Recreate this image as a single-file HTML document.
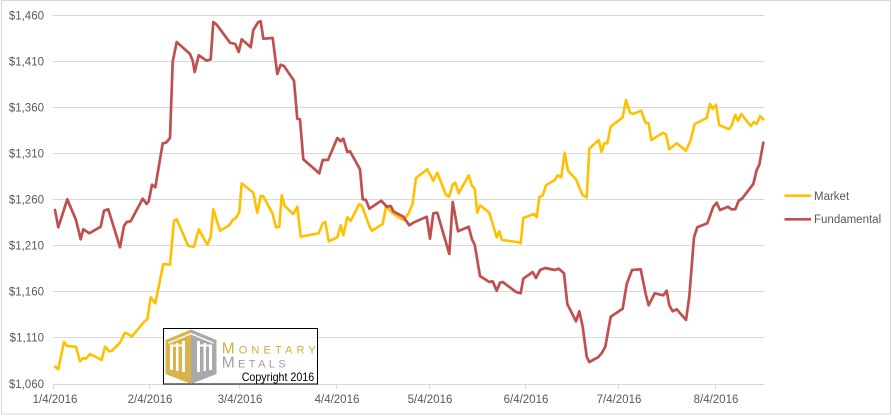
<!DOCTYPE html>
<html><head><meta charset="utf-8"><style>
html,body{margin:0;padding:0;background:#fff;}
svg{display:block;}
text{font-family:"Liberation Sans",Arial,sans-serif;}
</style></head><body>
<svg width="892" height="416" viewBox="0 0 892 416" xmlns="http://www.w3.org/2000/svg">
<rect x="0" y="0" width="892" height="416" fill="#fff"/>
<rect x="1.5" y="0.5" width="889" height="413.5" fill="none" stroke="#d9d9d9" stroke-width="1"/>
<g stroke="#d9d9d9" stroke-width="1">
<line x1="53" y1="15.5" x2="764" y2="15.5"/>
<line x1="53" y1="61.5" x2="764" y2="61.5"/>
<line x1="53" y1="107.5" x2="764" y2="107.5"/>
<line x1="53" y1="153.5" x2="764" y2="153.5"/>
<line x1="53" y1="199.5" x2="764" y2="199.5"/>
<line x1="53" y1="245.5" x2="764" y2="245.5"/>
<line x1="53" y1="291.5" x2="764" y2="291.5"/>
<line x1="53" y1="337.5" x2="764" y2="337.5"/>
<line x1="53" y1="384.5" x2="764" y2="384.5"/>
<line x1="53.5" y1="384" x2="53.5" y2="389"/>
<line x1="149.5" y1="384" x2="149.5" y2="389"/>
<line x1="239.5" y1="384" x2="239.5" y2="389"/>
<line x1="336.5" y1="384" x2="336.5" y2="389"/>
<line x1="429.5" y1="384" x2="429.5" y2="389"/>
<line x1="525.5" y1="384" x2="525.5" y2="389"/>
<line x1="618.5" y1="384" x2="618.5" y2="389"/>
<line x1="715.5" y1="384" x2="715.5" y2="389"/>
</g>
<g font-size="11.5" fill="#595959" text-anchor="end">
<text x="44" y="19.5">$1,460</text>
<text x="44" y="65.5">$1,410</text>
<text x="44" y="111.5">$1,360</text>
<text x="44" y="157.5">$1,310</text>
<text x="44" y="203.5">$1,260</text>
<text x="44" y="249.5">$1,210</text>
<text x="44" y="295.5">$1,160</text>
<text x="44" y="341.5">$1,110</text>
<text x="44" y="388">$1,060</text>
</g>
<g font-size="11.5" fill="#595959" text-anchor="middle">
<text x="55" y="403">1/4/2016</text>
<text x="150" y="403">2/4/2016</text>
<text x="240" y="403">3/4/2016</text>
<text x="337" y="403">4/4/2016</text>
<text x="430" y="403">5/4/2016</text>
<text x="526" y="403">6/4/2016</text>
<text x="619" y="403">7/4/2016</text>
<text x="716" y="403">8/4/2016</text>
</g>
<polyline fill="none" stroke="#FFC000" stroke-width="2.6" stroke-linejoin="round" stroke-linecap="round" points="55,366.7 58.3,369.3 64,342 67.3,346 76,346.7 80,361.3 83.3,358 86,358.7 90,354 101.7,360 105,346.7 109.3,351.3 112,350.7 120,342.7 125,332.7 128,334 131.7,336.7 144,322 147.3,319.3 150.7,297.3 155.3,303.3 163.3,264 170,264.7 174,220.7 176.7,219.3 188.3,246 194,246.7 198.7,229.3 207.3,244.7 210.7,236.7 213.3,209.3 220,230.7 229.3,225.3 232.7,220 236,218 239.3,212 241.7,183.3 253.3,192.7 257.3,212.7 260.7,196 263.3,196 272.7,214 276,227.3 279.3,226.7 281.7,195.3 284.7,206 293.3,214 297.3,206.7 300.7,236.7 318.7,233.3 322.7,223.3 325.3,222 328.7,241.3 337.3,237.3 340.7,225.3 343.3,235.3 347.3,217.3 350.7,220.7 359.3,204 362,206 369.3,226 372,230.7 382.7,224 386,206.7 392.7,213.3 403.3,220 408.7,213.3 412.7,203.3 416,178 427.3,169.3 433.3,180.7 437.3,172.7 446,195 449.3,196.7 452.7,184 455.3,182.7 458.7,193.3 468.7,175.3 472,186 474.7,188.7 477.3,212.7 480,205.3 489.3,212.7 496.7,237.3 499.3,231.3 502,240 517.3,242 520.7,243.3 523.3,218 534,214 536.7,217.3 539.3,197.3 542.7,195.3 546,185.3 554.7,180 558,175.3 561.3,177.3 564.7,152.7 568,170.7 576,179.3 578.7,186 582.7,195.3 586.7,197.3 589.3,148.7 598.7,140 601.5,151.7 604.3,143.3 607.3,143.3 610.7,126.7 622.7,117.3 626,100 630,112.7 632.7,114 641.3,110.7 645.3,122.7 648.7,123.3 651.3,140 663.3,132.7 666,134.7 669.3,149.3 676.7,143.3 686,150.7 690.7,140 694.7,124 706.7,118 710,104 712.7,108.7 716,104.7 719.3,125.3 729.3,129.3 732,124.7 735.3,114.7 738,120.7 741.3,114 750.7,126 754,122 756.7,124 760,116 763.3,119.3"/>
<polyline fill="none" stroke="#C0504D" stroke-width="2.7" stroke-linejoin="round" stroke-linecap="round" points="55,210 58.3,227.3 67.3,199.3 76,220 80.7,239.3 83.3,229.3 89.3,233.3 100.7,226.7 104,210.7 108.3,209.3 120,247.3 124,226 126.7,222 130.7,221.3 142.7,198.7 146.7,204 148.7,201.3 152,184.7 155.3,187.3 162.7,143.3 166,142.7 170,138 172.7,61.7 176.7,42 190,54 192.7,60.7 194.7,72 198.7,55.3 206.7,60.7 210.7,59.3 213.3,22 216.7,24.7 230,42.7 235.3,44 238.7,52 241.7,39.3 250.7,47.3 253.3,30 258.3,22 260.7,21.3 263.3,38.7 272.7,38 277.3,74 280.7,64.7 284,66 294,80.7 297.3,118.7 300,119.3 303.3,159.3 319.3,173.3 322.7,160 328,160 337.3,138 340.7,141.3 343.3,138.7 347.3,152 350,151.3 360,169.3 362.7,199.3 366,200 369.3,208.7 381.3,200.7 386.7,206.7 390.7,206 393.3,211.3 403.3,216.7 409.3,225.3 413.3,222.7 426.7,216.7 430,238.7 433.3,213.3 437.3,212.7 449.3,254 452.7,202 458,231.3 468.7,226.7 472,239.3 474.7,244.7 480,276 489.3,282 492.7,281.3 496.7,290.7 500,282.7 502.7,282 516,292 520.7,293.3 523.3,278.7 532.7,272 536,278 540,270 545.3,268 554.7,270 558.7,268.7 564,273.3 567.3,304 576,321.3 579.3,311.3 582.7,326.7 586.7,356.7 589.3,362 598,357.3 602,352.7 605.3,346.7 610.7,316.7 622.7,308.7 626.7,284 632,270 640.7,269.3 646,295.3 648.7,305.3 654.7,293.3 663.3,295.3 666.7,290.7 669.3,305.3 672.7,311.3 676.7,309.3 686,320 689.3,296.7 694,237.3 697.3,227.3 707.3,223.3 713.3,206.7 716.7,202.7 720,210 728,206.7 731.3,209.3 735.3,209.3 738.7,200.7 742,198.7 753.3,184 756.7,170 759.3,164.7 763.3,142.7"/>
<!-- legend -->
<line x1="784.5" y1="195.7" x2="811" y2="195.7" stroke="#FFC000" stroke-width="2.6"/>
<line x1="784.5" y1="219.3" x2="811" y2="219.3" stroke="#C0504D" stroke-width="2.7"/>
<text x="814" y="200" font-size="11.5" fill="#595959">Market</text>
<text x="814" y="223" font-size="11.5" fill="#595959">Fundamental</text>
<!-- logo box -->
<rect x="163.5" y="328.5" width="154" height="55.5" fill="#fff" stroke="#000" stroke-width="1"/>
<polygon points="191,329.5 165.5,340 165.5,374 191,384" fill="#d9b44a"/>
<polygon points="191,329.5 216.5,340 216.5,374 191,384" fill="#a9a9a9"/>
<g fill="#fff">
<polygon points="191,333 168.5,342.3 168.5,343.8 191,334.5"/>
<polygon points="191,333 213.5,342.3 213.5,343.8 191,334.5"/>
<rect x="170" y="346" width="3" height="24"/>
<rect x="176" y="343" width="2.5" height="28"/>
<rect x="182" y="341" width="3" height="31"/>
<rect x="197" y="341" width="3" height="31"/>
<rect x="203.5" y="343" width="2.5" height="28"/>
<rect x="209" y="346" width="3" height="24"/>
<rect x="170" y="344.5" width="15" height="2"/>
<rect x="197" y="344.5" width="15" height="2"/>
</g>
<text x="221.7" y="353.5" font-family="Liberation Serif,serif" font-size="15.5" fill="#d4ac3c" style="font-variant:small-caps" textLength="94" lengthAdjust="spacing">Monetary</text>
<text x="221.7" y="367.5" font-family="Liberation Serif,serif" font-size="15.5" fill="#a0a0a0" style="font-variant:small-caps" textLength="64" lengthAdjust="spacing">Metals</text>
<text x="241.7" y="381" font-size="12" fill="#000" textLength="72.5" lengthAdjust="spacingAndGlyphs">Copyright 2016</text>
</svg>
</body></html>
